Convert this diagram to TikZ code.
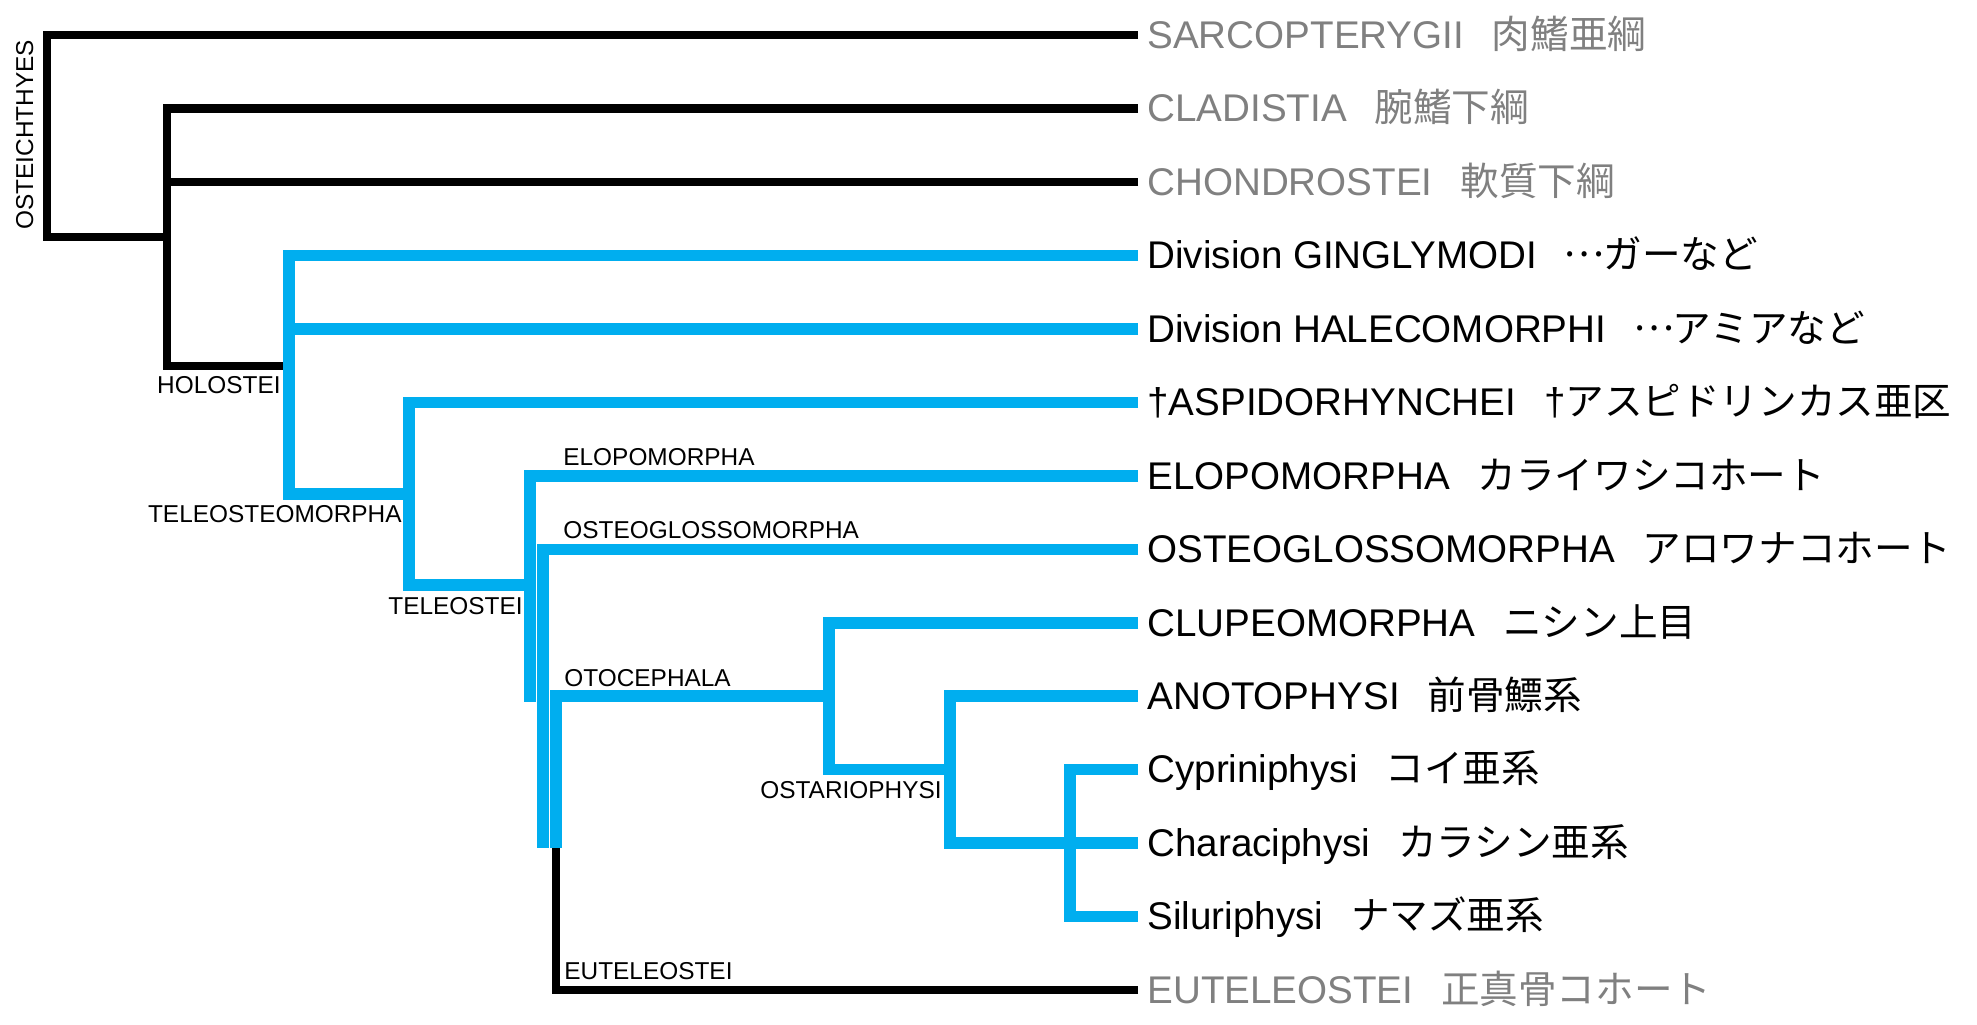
\documentclass[tikz,border=0pt]{standalone}
\usepackage{fontspec}
\setmainfont{Liberation Sans}
\newfontfamily\jpfont{Noto Sans CJK JP}
\definecolor{cladeblue}{RGB}{0,174,239}
\definecolor{tipgrey}{RGB}{128,128,128}
\newcommand{\tiptext}[2]{#1\hspace{0.72em}{\jpfont #2}}
\newcommand{\fwdots}{\makebox[1em]{\raisebox{0.3em}{…}}}

\begin{document}
\begin{tikzpicture}[x=0.5pt,y=-0.5pt,line join=miter,line cap=butt,
	blackline/.style={line width=4.4pt,draw=black},
	blueline/.style={line width=5.75pt,draw=cladeblue},
	tiplabel/.style={anchor=base west,inner sep=0pt,xshift=4.5pt,yshift=-6.5pt,font=\fontsize{19.3}{23}\selectfont},
	greytip/.style={tiplabel,text=tipgrey},
	cladelabel/.style={inner sep=0pt,font=\fontsize{12.2}{14}\selectfont}]
			\useasboundingbox (0,0) rectangle (1977,1024);
			% tips
			\coordinate (SA) at (1138,35);
			\coordinate (CL) at (1138,108.5);
			\coordinate (CH) at (1138,182);
			\coordinate (GI) at (1138,255.5);
			\coordinate (HA) at (1138,329);
			\coordinate (AS) at (1138,402.5);
			\coordinate (EL) at (1138,476);
			\coordinate (OG) at (1138,549.5);
			\coordinate (CU) at (1138,623);
			\coordinate (AN) at (1138,696);
			\coordinate (CY) at (1138,769.5);
			\coordinate (CR) at (1138,843);
			\coordinate (SI) at (1138,916.5);
			\coordinate (EU) at (1138,990);
			% branch points
			\coordinate (O) at (47,237);
			\coordinate (K) at (167,366);
			\coordinate (H) at (289,494);
			\coordinate (T) at (409,585);
			\coordinate (E) at (530,702);
			\coordinate (G) at (543,848);
			\coordinate (Q) at (556,696);
			\coordinate (R) at (829,769.5);
			\coordinate (M) at (950,843);
			\coordinate (Y) at (1070,916.5);
			\draw[blackline] (SA) -| (O) -- (O-|K);
			\draw[blackline] (CL) -| (K) -- (K-|H);
			\draw[blackline] (CH) -- (CH-|K);
			\draw[blackline] (EU) -| (Q|-G);
			\draw[blueline] (GI) -| (H) -- (H-|T);
			\draw[blueline] (HA) -- (HA-|H);
			\draw[blueline] (AS) -| (T) -- (T-|E);
			\draw[blueline] (EL) -| (E);
			\draw[blueline] (OG) -| (G);
			\draw[blueline] (Q-|R) -| (Q|-G);
			\draw[blueline] (CU) -| (R) -- (R-|M);
			\draw[blueline] (AN) -| (M) -- (CR);
			\draw[blueline] (CY) -| (Y) -- (SI);
			% clade names
			\node[cladelabel,rotate=90,anchor=base west] (OSl) at (33,230) {OSTEICHTHYES};
			\node[cladelabel,anchor=base east] (HOl) at (281,393) {HOLOSTEI};
			\node[cladelabel,anchor=base east] (TMl) at (402,522) {TELEOSTEOMORPHA};
			\node[cladelabel,anchor=base east] (TEl) at (523,614) {TELEOSTEI};
			\node[cladelabel,anchor=base east] (OPl) at (942,798) {OSTARIOPHYSI};
			\node[cladelabel,anchor=base west] (ELl) at (563,465) {ELOPOMORPHA};
			\node[cladelabel,anchor=base west] (OGl) at (563,538) {OSTEOGLOSSOMORPHA};
			\node[cladelabel,anchor=base west] (OTl) at (564,686) {OTOCEPHALA};
			\node[cladelabel,anchor=base west] (EUl) at (564,979) {EUTELEOSTEI};
			% tip names
			\node[greytip] (SAt) at (SA) {\tiptext{SARCOPTERYGII}{肉鰭亜綱}};
			\node[greytip] (CLt) at (CL) {\tiptext{CLADISTIA}{腕鰭下綱}};
			\node[greytip] (CHt) at (CH) {\tiptext{CHONDROSTEI}{軟質下綱}};
			\node[tiplabel] (GIt) at (GI) {\tiptext{Division GINGLYMODI}{\fwdots ガーなど}};
			\node[tiplabel] (HAt) at (HA) {\tiptext{Division HALECOMORPHI}{\fwdots アミアなど}};
			\node[tiplabel] (ASt) at (AS) {\tiptext{†ASPIDORHYNCHEI}{{\rmfamily †}アスピドリンカス亜区}};
			\node[tiplabel] (ELt) at (EL) {\tiptext{ELOPOMORPHA}{カライワシコホート}};
			\node[tiplabel] (OGt) at (OG) {\tiptext{OSTEOGLOSSOMORPHA}{アロワナコホート}};
			\node[tiplabel] (CUt) at (CU) {\tiptext{CLUPEOMORPHA}{ニシン上目}};
			\node[tiplabel] (ANt) at (AN) {\tiptext{ANOTOPHYSI}{前骨鰾系}};
			\node[tiplabel] (CYt) at (CY) {\tiptext{Cypriniphysi}{コイ亜系}};
			\node[tiplabel] (CRt) at (CR) {\tiptext{Characiphysi}{カラシン亜系}};
			\node[tiplabel] (SIt) at (SI) {\tiptext{Siluriphysi}{ナマズ亜系}};
			\node[greytip] (EUt) at (EU) {\tiptext{EUTELEOSTEI}{正真骨コホート}};
		\end{tikzpicture}
\end{document}
